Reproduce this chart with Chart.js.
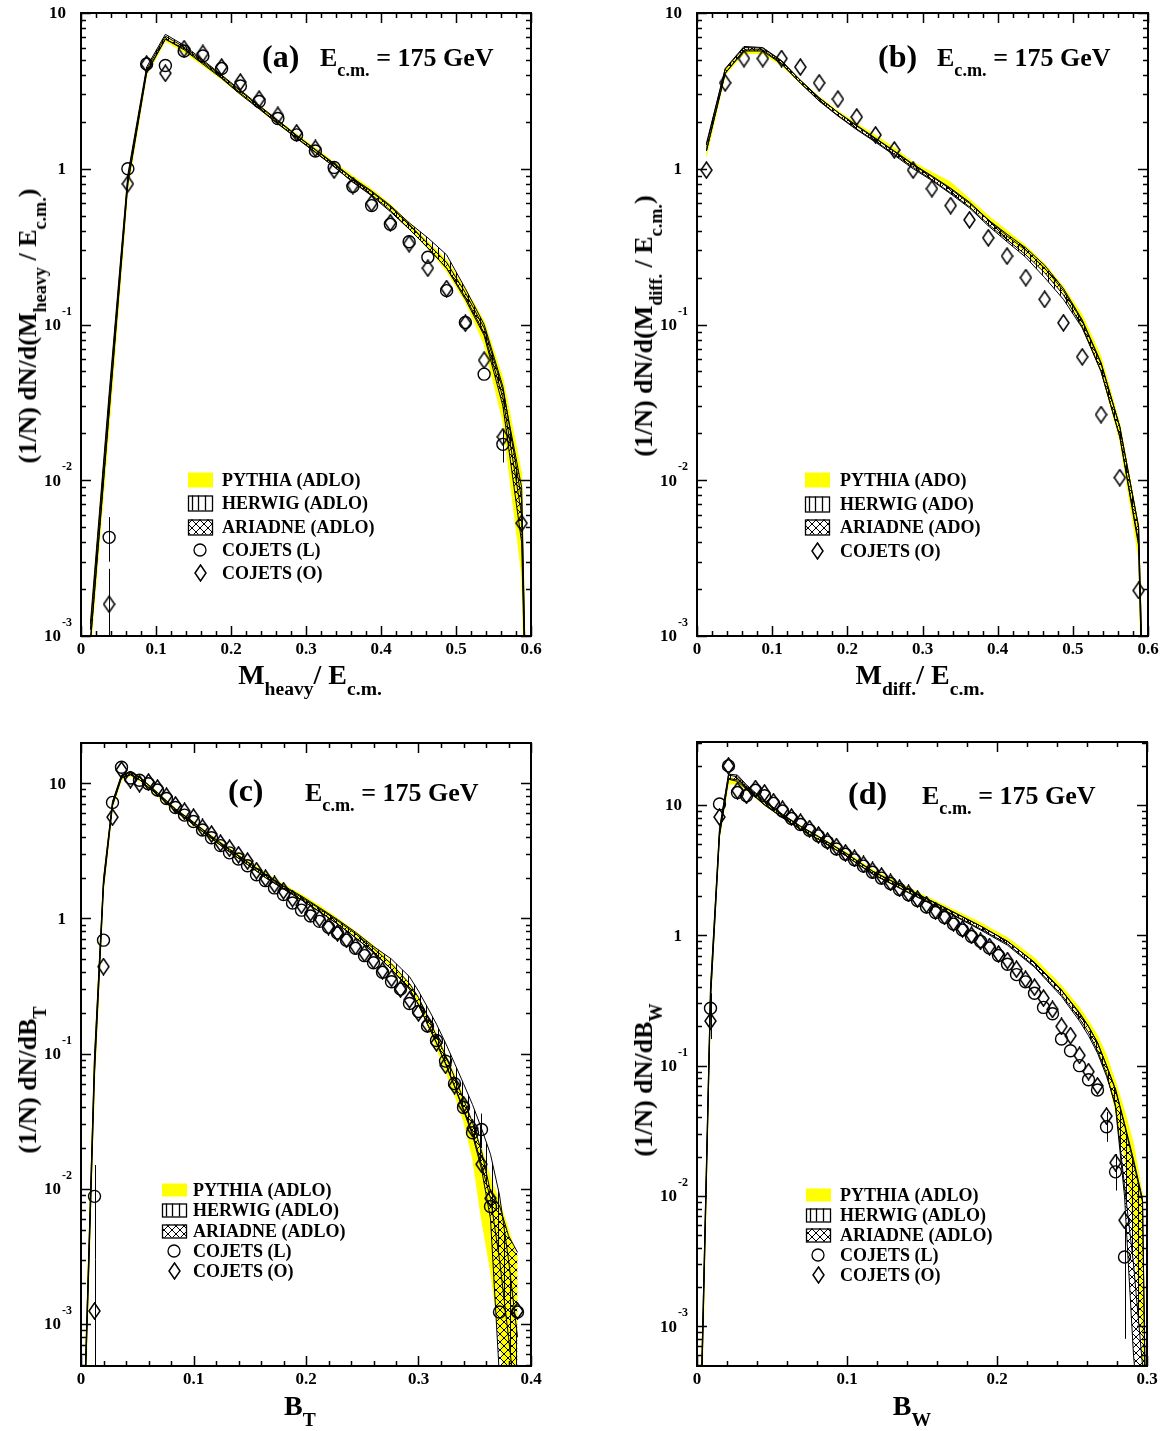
<!DOCTYPE html>
<html>
<head>
<meta charset="utf-8">
<script src="https://cdn.jsdelivr.net/npm/chart.js@4.4.1/dist/chart.umd.min.js"></script>
<style>
body{margin:0;background:#fff;width:1165px;height:1431px;position:relative;overflow:hidden;font-family:'Liberation Serif','Times New Roman',serif;font-weight:bold;color:#000}
canvas{position:absolute}
.t{position:absolute;white-space:nowrap;line-height:1}
.t sub{font-size:.7em;vertical-align:-.55em;line-height:0}
.yt{transform:translate(-50%,-50%) rotate(-90deg)}
.xt{transform:translateX(-50%)}
</style>
</head>
<body>
<canvas id="ca" width="551" height="686" style="left:0;top:0"></canvas>
<canvas id="cb" width="552" height="686" style="left:616px;top:0"></canvas>
<canvas id="cc" width="551" height="686" style="left:0;top:730px"></canvas>
<canvas id="cd" width="551" height="687" style="left:616px;top:729px"></canvas>

<div class="t" style="left:262px;top:40px;font-size:32px">(a)</div>
<div class="t" style="left:320px;top:45px;font-size:26px">E<sub>c.m.</sub> = 175 GeV</div>
<div class="t" style="left:878px;top:40px;font-size:32px">(b)</div>
<div class="t" style="left:937px;top:45px;font-size:26px">E<sub>c.m.</sub> = 175 GeV</div>
<div class="t" style="left:228px;top:774px;font-size:32px">(c)</div>
<div class="t" style="left:305px;top:780px;font-size:26px">E<sub>c.m.</sub> = 175 GeV</div>
<div class="t" style="left:848px;top:777px;font-size:32px">(d)</div>
<div class="t" style="left:922px;top:783px;font-size:26px">E<sub>c.m.</sub> = 175 GeV</div>

<div class="t yt" style="left:28px;top:326px;font-size:26px">(1/N) dN/d(M<sub>heavy</sub> / E<sub>c.m.</sub>)</div>
<div class="t yt" style="left:644px;top:326px;font-size:26px">(1/N) dN/d(M<sub>diff.</sub> / E<sub>c.m.</sub>)</div>
<div class="t yt" style="left:28px;top:1080px;font-size:26px">(1/N) dN/dB<sub>T</sub></div>
<div class="t yt" style="left:644px;top:1080px;font-size:26px">(1/N) dN/dB<sub>W</sub></div>

<div class="t xt" style="left:310px;top:661px;font-size:28px">M<sub>heavy</sub>/ E<sub>c.m.</sub></div>
<div class="t xt" style="left:920px;top:661px;font-size:28px">M<sub>diff.</sub>/ E<sub>c.m.</sub></div>
<div class="t xt" style="left:300px;top:1392px;font-size:28px">B<sub>T</sub></div>
<div class="t xt" style="left:912px;top:1392px;font-size:28px">B<sub>W</sub></div>

<script>
// ---- data ----
// (a) heavy jet mass, (b) jet mass difference : MC bin centres
var mcXab = [0.0125,0.0375,0.0625,0.0875,0.1125,0.1375,0.1625,0.1875,0.2125,0.2375,0.2625,0.2875,0.3125,0.3375,0.3625,0.3875,0.4125,0.4375,0.4625,0.4875,0.5125,0.5375,0.5625,0.5875,0.5925];

var pyLoA = [0.0008,0.022,0.75,4.0,6.6,5.6,4.6,3.75,3.0,2.42,1.95,1.58,1.28,1.04,0.84,0.69,0.55,0.41,0.31,0.22,0.14,0.075,0.024,0.0025,0.0003];
var pyHiA = [0.0012,0.034,0.9,4.4,7.0,6.0,4.9,3.95,3.15,2.55,2.05,1.67,1.36,1.1,0.9,0.74,0.59,0.45,0.34,0.26,0.17,0.105,0.045,0.011,0.0007];
var hwLoA = [0.0009,0.028,0.82,4.2,6.8,5.9,4.8,3.85,3.05,2.45,1.95,1.58,1.28,1.03,0.82,0.68,0.54,0.41,0.31,0.23,0.15,0.088,0.034,0.006,0.0004];
var hwHiA = [0.0012,0.036,0.92,4.5,7.3,6.2,5.0,4.0,3.2,2.55,2.05,1.64,1.33,1.08,0.87,0.72,0.58,0.45,0.36,0.28,0.17,0.1,0.04,0.0075,0.0006];
var arLoA = [0.0009,0.027,0.8,4.1,6.8,5.8,4.7,3.8,3.0,2.42,1.94,1.57,1.27,1.03,0.82,0.67,0.53,0.41,0.31,0.23,0.145,0.085,0.03,0.004,0.0004];
var arHiA = [0.0011,0.033,0.88,4.35,7.1,6.05,4.9,3.95,3.15,2.52,2.02,1.63,1.32,1.07,0.86,0.71,0.57,0.44,0.33,0.25,0.16,0.095,0.038,0.009,0.0006];
var dXa = [0.0375,0.0625,0.0875,0.1125,0.1375,0.1625,0.1875,0.2125,0.2375,0.2625,0.2875,0.3125,0.3375,0.3625,0.3875,0.4125,0.4375,0.4625,0.4875,0.5125,0.5375,0.5625,0.5875];
var cojLA = [0.0043,1.0,4.7,4.6,5.7,5.3,4.4,3.4,2.7,2.1,1.65,1.3,1.02,0.77,0.58,0.44,0.34,0.27,0.165,0.103,0.048,0.017,null];
var cojOA = [0.0016,0.8,4.7,4.1,5.9,5.5,4.5,3.6,2.8,2.2,1.7,1.35,0.98,0.78,0.6,0.45,0.33,0.23,0.17,0.102,0.059,0.019,0.0053];
var errLA = [[0.0375,0.003,0.0058],[0.5625,0.013,0.021]];
var errOA = [[0.0375,0.0004,0.0027]];

var pyLoB = [1.2,4.0,5.5,5.5,4.6,3.55,2.8,2.27,1.87,1.56,1.28,1.04,0.88,0.74,0.59,0.46,0.36,0.29,0.22,0.16,0.1,0.05,0.018,0.0032,0.0003];
var pyHiB = [1.4,4.3,5.8,5.8,4.8,3.7,2.9,2.35,1.95,1.64,1.36,1.1,0.95,0.82,0.64,0.5,0.4,0.32,0.245,0.175,0.115,0.062,0.023,0.0052,0.0007];
var hwLoB = [1.3,4.1,5.8,5.8,4.75,3.55,2.72,2.18,1.78,1.48,1.22,1.0,0.84,0.69,0.56,0.43,0.34,0.27,0.2,0.145,0.095,0.05,0.019,0.004,0.0004];
var hwHiB = [1.45,4.4,6.1,6.0,4.95,3.7,2.85,2.3,1.88,1.56,1.29,1.06,0.89,0.74,0.6,0.47,0.37,0.3,0.23,0.165,0.105,0.056,0.022,0.005,0.0006];
var arLoB = [1.3,4.1,5.7,5.7,4.7,3.55,2.74,2.2,1.8,1.5,1.24,1.02,0.85,0.7,0.57,0.44,0.35,0.28,0.215,0.155,0.097,0.05,0.019,0.0038,0.0004];
var arHiB = [1.42,4.35,6.0,5.95,4.9,3.7,2.86,2.3,1.9,1.57,1.3,1.07,0.9,0.75,0.61,0.47,0.38,0.31,0.24,0.17,0.107,0.057,0.022,0.005,0.0006];
var dXb = [0.0125,0.0375,0.0625,0.0875,0.1125,0.1375,0.1625,0.1875,0.2125,0.2375,0.2625,0.2875,0.3125,0.3375,0.3625,0.3875,0.4125,0.4375,0.4625,0.4875,0.5125,0.5375,0.5625,0.5875];
var cojOB = [0.98,3.56,5.1,5.1,5.1,4.5,3.56,2.8,2.15,1.65,1.32,0.98,0.745,0.58,0.47,0.36,0.275,0.2,0.145,0.1025,0.062,0.0264,0.0104,0.00196];

// (c) total jet broadening B_T
var mcXc = [0.004,0.012,0.020,0.028,0.036,0.044,0.052,0.068,0.084,0.100,0.116,0.132,0.148,0.164,0.180,0.196,0.212,0.228,0.244,0.260,0.276,0.292,0.300,0.308,0.316,0.324,0.332,0.340,0.348,0.356,0.364,0.372,0.380,0.388];
var pyLoC = [0.0003,0.06,1.6,6.6,10.6,11.3,10.4,8.0,6.1,4.9,3.85,3.1,2.5,2.02,1.66,1.38,1.14,0.93,0.74,0.58,0.43,0.3,0.23,0.16,0.11,0.075,0.05,0.032,0.017,0.006,0.0025,0.0008,0.0002,0.0001];
var pyHiC = [0.0006,0.1,2.0,7.3,11.5,12.2,11.2,8.6,6.5,5.2,4.1,3.3,2.68,2.17,1.78,1.5,1.24,1.0,0.8,0.63,0.47,0.33,0.26,0.19,0.14,0.1,0.07,0.048,0.03,0.02,0.012,0.008,0.005,0.003];
var hwLoC = [0.0004,0.075,1.75,6.9,11.0,11.6,10.6,8.2,6.2,4.95,3.9,3.1,2.5,2.0,1.65,1.37,1.12,0.91,0.72,0.56,0.42,0.3,0.23,0.165,0.12,0.085,0.058,0.039,0.026,0.015,0.0085,0.003,0.0008,0.0002];
var hwHiC = [0.0005,0.095,1.95,7.3,11.5,12.2,11.1,8.5,6.45,5.15,4.05,3.25,2.62,2.12,1.74,1.46,1.2,0.98,0.79,0.62,0.5,0.37,0.29,0.22,0.165,0.12,0.085,0.06,0.042,0.028,0.018,0.009,0.003,0.0008];
var arLoC = [0.0004,0.07,1.7,6.8,10.9,11.5,10.6,8.2,6.2,4.95,3.9,3.1,2.5,2.0,1.65,1.37,1.12,0.91,0.72,0.56,0.42,0.3,0.23,0.165,0.12,0.084,0.057,0.038,0.025,0.014,0.006,0.0004,0.0001,0.0001];
var arHiC = [0.0005,0.09,1.9,7.2,11.4,12.1,11.0,8.45,6.4,5.1,4.0,3.2,2.6,2.1,1.72,1.43,1.18,0.96,0.77,0.6,0.46,0.33,0.26,0.19,0.135,0.097,0.067,0.046,0.031,0.019,0.0095,0.0075,0.0045,0.0034];
var dXc = [0.012,0.020,0.028,0.036,0.044,0.052,0.060,0.068,0.076,0.084,0.092,0.100,0.108,0.116,0.124,0.132,0.140,0.148,0.156,0.164,0.172,0.180,0.188,0.196,0.204,0.212,0.220,0.228,0.236,0.244,0.252,0.260,0.268,0.276,0.284,0.292,0.300,0.308,0.316,0.324,0.332,0.340,0.348,0.356,0.364,0.372,0.380,0.388];
var cojLC = [0.0088,0.69,7.2,13.1,10.9,10.5,9.9,8.9,7.7,6.6,5.8,5.2,4.5,3.95,3.45,3.05,2.75,2.45,2.1,1.9,1.68,1.5,1.3,1.15,1.04,0.95,0.86,0.78,0.69,0.6,0.53,0.47,0.4,0.34,0.3,0.235,0.205,0.16,0.125,0.088,0.06,0.04,0.026,0.0275,0.0074,0.00123,null,0.00123];
var cojOC = [0.00125,0.44,5.6,12.5,10.6,9.9,10.2,9.2,8.0,6.9,6.2,5.6,4.7,4.2,3.6,3.3,2.95,2.65,2.25,1.98,1.78,1.6,1.4,1.25,1.1,1.0,0.87,0.78,0.7,0.62,0.55,0.49,0.41,0.36,0.3,0.25,0.2,0.165,0.12,0.082,0.058,0.042,0.028,0.0152,0.0085,null,null,0.00125];
var errLC = [[0.012,0.003,0.015],[0.356,0.02,0.036]];
var errOC = [[0.012,0.0002,0.003]];

// (d) wide jet broadening B_W
var mcXd = [0.003,0.009,0.015,0.021,0.027,0.033,0.045,0.057,0.069,0.081,0.099,0.117,0.141,0.165,0.189,0.207,0.225,0.243,0.255,0.261,0.267,0.273,0.279,0.285,0.291,0.297,0.2995];
var pyLoD = [0.0002,0.3,5.6,14.5,14.5,13.0,10.0,8.0,6.6,5.5,4.15,3.0,2.2,1.6,1.17,0.9,0.62,0.37,0.245,0.19,0.14,0.09,0.045,0.02,0.006,0.0008,0.0001];
var pyHiD = [0.0004,0.4,6.5,16.5,15.8,13.8,10.6,8.5,6.9,5.8,4.4,3.2,2.32,1.7,1.25,0.96,0.67,0.41,0.28,0.22,0.17,0.12,0.075,0.045,0.025,0.01,0.0001];
var hwLoD = [0.0003,0.33,5.9,16.0,15.6,13.4,10.1,8.0,6.5,5.45,4.1,2.95,2.12,1.55,1.1,0.84,0.57,0.34,0.22,0.17,0.125,0.083,0.05,0.012,0.003,0.0005,0.0001];
var hwHiD = [0.0004,0.4,6.6,17.3,17.0,14.3,10.8,8.5,6.9,5.75,4.3,3.12,2.25,1.64,1.18,0.9,0.62,0.38,0.255,0.2,0.15,0.1,0.065,0.035,0.018,0.009,0.0001];
var arLoD = [0.0003,0.32,5.8,15.8,15.2,13.2,10.0,8.0,6.5,5.45,4.1,2.97,2.14,1.56,1.12,0.86,0.58,0.35,0.23,0.18,0.13,0.087,0.048,0.01,0.0006,0.0001,0.0001];
var arHiD = [0.0004,0.38,6.4,17.0,16.5,14.0,10.6,8.4,6.85,5.7,4.28,3.1,2.24,1.63,1.18,0.9,0.62,0.38,0.25,0.2,0.15,0.1,0.066,0.036,0.019,0.0095,0.0001];
var dXd = [0.009,0.015,0.021,0.027,0.033,0.039,0.045,0.051,0.057,0.063,0.069,0.075,0.081,0.087,0.093,0.099,0.105,0.111,0.117,0.123,0.129,0.135,0.141,0.147,0.153,0.159,0.165,0.171,0.177,0.183,0.189,0.195,0.201,0.207,0.213,0.219,0.225,0.231,0.237,0.243,0.249,0.255,0.261,0.267,0.273,0.279,0.285,0.291];
var cojLD = [0.276,10.2,20,12.5,11.8,13.0,11.8,10.3,9.0,7.9,7.1,6.4,5.8,5.2,4.6,4.2,3.8,3.4,3.05,2.75,2.5,2.25,2.05,1.85,1.65,1.5,1.37,1.22,1.1,0.98,0.9,0.8,0.7,0.6,0.5,0.44,0.36,0.28,0.25,0.16,0.13,0.1,0.078,0.065,0.034,0.0153,0.0034,null];
var cojOD = [0.22,8.1,20,12.9,11.9,13.4,12.4,10.6,9.3,8.1,7.4,6.6,5.9,5.3,4.8,4.3,3.9,3.5,3.15,2.85,2.55,2.3,2.1,1.9,1.72,1.55,1.4,1.25,1.12,1.0,0.9,0.82,0.72,0.64,0.55,0.46,0.4,0.33,0.27,0.2,0.17,0.12,0.09,0.07,0.041,0.018,0.0065,null];
var errLD = [[0.009,0.2,0.36],[0.273,0.026,0.044],[0.279,0.011,0.021],[0.285,0.0008,0.006]];
var errOD = [[0.009,0.16,0.3]];

var legADLO = [['py','PYTHIA (ADLO)'],['hw','HERWIG (ADLO)'],['ar','ARIADNE (ADLO)'],['L','COJETS (L)'],['O','COJETS (O)']];
var legADO = [['py','PYTHIA (ADO)'],['hw','HERWIG (ADO)'],['ar','ARIADNE (ADO)'],['O','COJETS (O)']];

// ---- drawing helpers ----
var YELLOW = '#ffff00';
var FONT = '"Liberation Serif", "Times New Roman", serif';

function makePattern(kind) {
  var n = kind === 'v' ? 6 : 8;
  var c = document.createElement('canvas');
  c.width = n; c.height = n;
  var g = c.getContext('2d');
  g.strokeStyle = '#000'; g.lineWidth = 1;
  g.beginPath();
  if (kind === 'v') { g.moveTo(0.5, 0); g.lineTo(0.5, n); }
  else { g.moveTo(0, 0); g.lineTo(n, n); g.moveTo(n, 0); g.lineTo(0, n); }
  g.stroke();
  return g.createPattern(c, 'repeat');
}
var vPat = makePattern('v');
var xPat = makePattern('x');

var diamond = document.createElement('canvas');
diamond.width = 13; diamond.height = 18;
(function () {
  var g = diamond.getContext('2d');
  g.strokeStyle = '#000'; g.lineWidth = 1.5;
  g.beginPath();
  g.moveTo(6.5, 1); g.lineTo(12, 9); g.lineTo(6.5, 17); g.lineTo(1, 9); g.closePath();
  g.stroke();
})();

function pts(xs, ys) {
  var out = [];
  for (var i = 0; i < xs.length; i++) if (ys[i] != null) out.push({x: xs[i], y: ys[i]});
  return out;
}

function drawAxes(chart, p) {
  var ctx = chart.ctx, a = chart.chartArea, xs = chart.scales.x, ys = chart.scales.y;
  ctx.save();
  ctx.strokeStyle = '#000'; ctx.lineWidth = 1.5;
  ctx.beginPath();
  var n = Math.round(p.xMax / 0.02);
  for (var i = 0; i <= n; i++) {
    var px = Math.round(xs.getPixelForValue(i * 0.02)) + 0.5;
    var len = i % 5 === 0 ? 10 : 5;
    ctx.moveTo(px, a.bottom); ctx.lineTo(px, a.bottom - len);
    ctx.moveTo(px, a.top); ctx.lineTo(px, a.top + len);
  }
  var k0 = Math.floor(Math.log10(p.yMin)), k1 = Math.ceil(Math.log10(p.yMax));
  for (var k = k0; k <= k1; k++) {
    for (var m = 1; m <= 9; m++) {
      var v = m * Math.pow(10, k);
      if (v < p.yMin * 0.999 || v > p.yMax * 1.001) continue;
      var py = Math.round(ys.getPixelForValue(v)) + 0.5, l2 = m === 1 ? 10 : 5;
      ctx.moveTo(a.left, py); ctx.lineTo(a.left + l2, py);
      ctx.moveTo(a.right, py); ctx.lineTo(a.right - l2, py);
    }
  }
  ctx.stroke();
  ctx.lineWidth = 2;
  ctx.strokeRect(a.left, a.top, a.right - a.left, a.bottom - a.top);

  // decade labels on the log axis
  ctx.fillStyle = '#000';
  ctx.textBaseline = 'middle';
  for (k = k0; k <= k1; k++) {
    v = Math.pow(10, k);
    if (v < p.yMin * 0.999 || v > p.yMax * 1.001) continue;
    py = ys.getPixelForValue(v);
    ctx.font = 'bold 17px ' + FONT;
    if (k >= 0) {
      ctx.textAlign = 'right';
      ctx.fillText(k === 0 ? '1' : '10', a.left - 15, py + 1);
    } else {
      ctx.textAlign = 'right';
      ctx.fillText('10', a.left - 20, py + 1);
      ctx.font = 'bold 12px ' + FONT;
      ctx.textAlign = 'left';
      ctx.fillText(String(k), a.left - 19, py - 13);
    }
  }
  ctx.restore();
}

function drawErrors(chart, p) {
  var ctx = chart.ctx, a = chart.chartArea, xs = chart.scales.x, ys = chart.scales.y;
  ctx.save();
  ctx.beginPath(); ctx.rect(a.left, a.top, a.right - a.left, a.bottom - a.top); ctx.clip();
  ctx.strokeStyle = '#000'; ctx.lineWidth = 1;
  ctx.beginPath();
  (p.errs || []).forEach(function (e) {
    var px = Math.round(xs.getPixelForValue(e[0])) + 0.5;
    ctx.moveTo(px, ys.getPixelForValue(e[1]));
    ctx.lineTo(px, ys.getPixelForValue(e[2]));
  });
  ctx.stroke();
  ctx.restore();
}

function drawLegend(chart, lg) {
  var ctx = chart.ctx;
  ctx.save();
  ctx.strokeStyle = '#000'; ctx.lineWidth = 1.3;
  lg.items.forEach(function (it, i) {
    var y = Math.round(lg.y + i * lg.dy), x = lg.x, h = lg.h, w = 24;
    if (it[0] === 'py') {
      ctx.fillStyle = YELLOW; ctx.fillRect(x, y - h / 2, w + 1, h);
    } else if (it[0] === 'hw') {
      ctx.strokeRect(x + 0.5, y - h / 2 + 0.5, w, h);
      ctx.beginPath();
      [4, 10, 17].forEach(function (dx) { ctx.moveTo(x + dx + 0.5, y - h / 2); ctx.lineTo(x + dx + 0.5, y + h / 2); });
      ctx.stroke();
    } else if (it[0] === 'ar') {
      ctx.fillStyle = xPat; ctx.fillRect(x, y - h / 2, w, h);
      ctx.strokeRect(x + 0.5, y - h / 2 + 0.5, w, h);
    } else if (it[0] === 'L') {
      ctx.beginPath(); ctx.arc(x + 12, y, 6, 0, 2 * Math.PI); ctx.stroke();
    } else {
      ctx.drawImage(diamond, x + 12 - Math.floor(diamond.width / 2), y - Math.floor(diamond.height / 2));
    }
    ctx.fillStyle = '#000';
    ctx.font = 'bold 18px ' + FONT;
    ctx.textAlign = 'left'; ctx.textBaseline = 'middle';
    ctx.fillText(it[1], lg.tx, y + 1);
  });
  ctx.restore();
}

function makePanel(id, p) {
  var ds = [
    {data: pts(p.mcX, p.pyLo), borderColor: YELLOW, borderWidth: 1, pointRadius: 0, fill: false, order: 4},
    {data: pts(p.mcX, p.pyHi), borderColor: YELLOW, borderWidth: 1, pointRadius: 0, fill: '-1', backgroundColor: YELLOW, order: 4},
    {data: pts(p.mcX, p.hwLo), borderColor: '#000', borderWidth: 1, pointRadius: 0, fill: false, order: 3},
    {data: pts(p.mcX, p.hwHi), borderColor: '#000', borderWidth: 1, pointRadius: 0, fill: '-1', backgroundColor: vPat, order: 3},
    {data: pts(p.mcX, p.arLo), borderColor: '#000', borderWidth: 1, pointRadius: 0, fill: false, order: 2},
    {data: pts(p.mcX, p.arHi), borderColor: '#000', borderWidth: 1, pointRadius: 0, fill: '-1', backgroundColor: xPat, order: 2}
  ];
  if (p.L) {
    ds.push({data: pts(p.dX, p.L), showLine: false, pointStyle: 'circle', pointRadius: 6,
      borderColor: '#000', backgroundColor: 'rgba(0,0,0,0)', pointBorderWidth: 1.4, order: 0});
  }
  ds.push({data: pts(p.dX, p.O), showLine: false, pointStyle: diamond, pointRadius: 6,
    borderColor: '#000', backgroundColor: 'rgba(0,0,0,0)', order: 0});

  var deco = {
    id: 'deco',
    afterDatasetsDraw: function (chart) { drawErrors(chart, p); },
    afterDraw: function (chart) { drawAxes(chart, p); drawLegend(chart, p.legend); }
  };

  return new Chart(document.getElementById(id), {
    type: 'line',
    data: {datasets: ds},
    options: {
      responsive: false,
      animation: false,
      devicePixelRatio: 1,
      events: [],
      layout: {padding: {left: 0, right: 20, top: 13, bottom: 0}},
      plugins: {legend: {display: false}, tooltip: {enabled: false}},
      scales: {
        x: {
          type: 'linear', min: 0, max: p.xMax,
          afterFit: function (s) { s.height = 50; },
          grid: {display: false, drawTicks: false},
          border: {display: false},
          ticks: {
            stepSize: 0.1, autoSkip: false, maxRotation: 0, padding: 3, color: '#000',
            font: {family: FONT, weight: 'bold', size: 17},
            callback: function (v) { return v === 0 ? '0' : Number(v).toFixed(1); }
          }
        },
        y: {
          type: 'logarithmic', min: p.yMin, max: p.yMax,
          afterFit: function (s) { s.width = 81; },
          grid: {display: false, drawTicks: false},
          border: {display: false},
          ticks: {display: false}
        }
      }
    },
    plugins: [deco]
  });
}

makePanel('ca', {
  mcX: mcXab, pyLo: pyLoA, pyHi: pyHiA, hwLo: hwLoA, hwHi: hwHiA, arLo: arLoA, arHi: arHiA,
  dX: dXa, L: cojLA, O: cojOA, errs: errLA.concat(errOA),
  xMax: 0.6, yMin: 0.001, yMax: 10,
  legend: {x: 188, y: 480, dy: 23.3, tx: 222, h: 15, items: legADLO}
});
makePanel('cb', {
  mcX: mcXab, pyLo: pyLoB, pyHi: pyHiB, hwLo: hwLoB, hwHi: hwHiB, arLo: arLoB, arHi: arHiB,
  dX: dXb, L: null, O: cojOB, errs: [],
  xMax: 0.6, yMin: 0.001, yMax: 10,
  legend: {x: 189, y: 480, dy: 23.7, tx: 224, h: 15, items: legADO}
});
makePanel('cc', {
  mcX: mcXc, pyLo: pyLoC, pyHi: pyHiC, hwLo: hwLoC, hwHi: hwHiC, arLo: arLoC, arHi: arHiC,
  dX: dXc, L: cojLC, O: cojOC, errs: errLC.concat(errOC),
  xMax: 0.4, yMin: 0.00049, yMax: 19.8,
  legend: {x: 162, y: 460, dy: 20.3, tx: 193, h: 13, items: legADLO}
});
makePanel('cd', {
  mcX: mcXd, pyLo: pyLoD, pyHi: pyHiD, hwLo: hwLoD, hwHi: hwHiD, arLo: arLoD, arHi: arHiD,
  dX: dXd, L: cojLD, O: cojOD, errs: errLD.concat(errOD),
  xMax: 0.3, yMin: 0.000495, yMax: 30.5,
  legend: {x: 190, y: 466, dy: 20, tx: 224, h: 13, items: legADLO}
});
</script>
</body>
</html>
